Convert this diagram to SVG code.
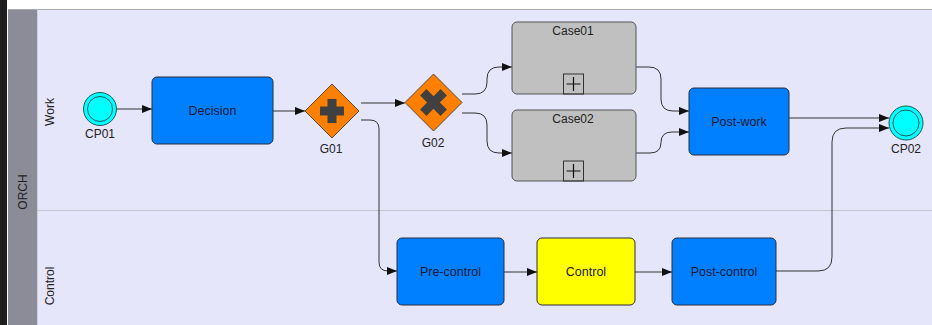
<svg xmlns="http://www.w3.org/2000/svg" width="932" height="325" viewBox="0 0 932 325">
  <style>
    .lbl { font-family: "Liberation Sans", Arial, sans-serif; font-size: 12px; fill: #222; text-anchor: middle; }
    .tsk { font-family: "Liberation Sans", Arial, sans-serif; font-size: 12.5px; fill: #1a1a33; text-anchor: middle; }
    .task { stroke: #2c2c3c; stroke-width: 1; }
    .blue { fill: #0080ff; }
    .conn { fill: none; stroke: #333; stroke-width: 1; marker-end: url(#arr); }
    .ev { fill: #00ffff; stroke: #1e5a5a; stroke-width: 1; }
    .gw { fill: #ff8000; stroke: #5a4a3a; stroke-width: 1; }
    .sub { fill: #c0c0c0; stroke: #555; stroke-width: 1; }
  </style>
  <defs>
    <marker id="arr" markerUnits="userSpaceOnUse" markerWidth="10" markerHeight="8" refX="10" refY="4" orient="auto">
      <path d="M0,0 L10,4 L0,8 z" fill="#111"/>
    </marker>
  </defs>

  <!-- background / pool -->
  <rect x="0" y="0" width="932" height="325" fill="#ffffff"/>
  <rect x="0" y="0" width="7" height="325" fill="#1e1e1e"/>
  <rect x="8" y="9" width="924" height="316" fill="#e6e6fa"/>
  <rect x="8" y="9" width="29" height="316" fill="#8c8c98"/>
  <line x1="8" y1="9.5" x2="932" y2="9.5" stroke="#a8a8b0"/>
  <line x1="37.5" y1="9" x2="37.5" y2="325" stroke="#d0d0dc"/>
  <line x1="37" y1="210.5" x2="932" y2="210.5" stroke="#c4c4cc"/>
  <text class="lbl" transform="translate(27,192) rotate(-90)">ORCH</text>
  <text class="lbl" transform="translate(54,112) rotate(-90)">Work</text>
  <text class="lbl" transform="translate(54,286) rotate(-90)">Control</text>

  <!-- connectors -->
  <g id="connectors">
    <path class="conn" d="M117,109 H152"/>
    <path class="conn" d="M273,111 H305"/>
    <path class="conn" d="M361,103 H405"/>
    <path class="conn" d="M361,120 H370 Q379,120 379,129 V262 Q379,271 388,271 H397"/>
    <path class="conn" d="M462,94 H475 Q487,94 487,82 V79 Q487,67 499,67 H512"/>
    <path class="conn" d="M462,113 H475 Q487,113 487,125 V141 Q487,153 499,153 H512"/>
    <path class="conn" d="M636,67 H649 Q661,67 661,79 V99 Q661,111 673,111 H689"/>
    <path class="conn" d="M636,153 H650 Q661,153 661,142.5 Q661,132 672,132 H689"/>
    <path class="conn" d="M789,118 H889"/>
    <path class="conn" d="M504,272 H537"/>
    <path class="conn" d="M635,272 H672"/>
    <path class="conn" d="M776,271 H818 Q832,271 832,257 V142 Q832,128 846,128 H889"/>
  </g>

  <g id="CP01">
    <circle class="ev" cx="100" cy="109" r="16.5"/>
    <circle class="ev" cx="100" cy="109" r="12.5"/>
    <text class="lbl" x="100" y="138">CP01</text>
  </g>

  <g id="Decision">
    <rect class="task blue" x="152" y="77" width="121" height="67" rx="5"/>
    <text class="tsk" x="212.5" y="115">Decision</text>
  </g>

  <g id="G01">
    <polygon class="gw" points="332,84 359,111 332,138 305,111"/>
    <path d="M327.5,99 h9 v7.5 h7.5 v9 h-7.5 v7.5 h-9 v-7.5 h-7.5 v-9 h7.5 z" fill="#404040"/>
    <text class="lbl" x="331" y="153">G01</text>
  </g>

  <g id="G02">
    <polygon class="gw" points="433.5,74 462,102.5 433.5,131 405,102.5"/>
    <path d="M429,88 h9 v10 h10 v9 h-10 v10 h-9 v-10 h-10 v-9 h10 z" fill="#404040" transform="rotate(45 433.5 102.5)"/>
    <text class="lbl" x="433" y="147">G02</text>
  </g>

  <g id="Case01">
    <rect class="sub" x="512" y="22" width="124" height="72" rx="5"/>
    <text class="lbl" x="573" y="35">Case01</text>
    <rect x="563.5" y="74" width="20" height="20" fill="none" stroke="#333"/>
    <path d="M566.5,84 h14 M573.5,77 v14" stroke="#111" stroke-width="1.2"/>
  </g>

  <g id="Case02">
    <rect class="sub" x="512" y="110" width="124" height="71" rx="5"/>
    <text class="lbl" x="573" y="123">Case02</text>
    <rect x="563.5" y="161" width="20" height="20" fill="none" stroke="#333"/>
    <path d="M566.5,171 h14 M573.5,164 v14" stroke="#111" stroke-width="1.2"/>
  </g>

  <g id="Post-work">
    <rect class="task blue" x="689" y="88" width="100" height="67" rx="5"/>
    <text class="tsk" x="739" y="126">Post-work</text>
  </g>

  <g id="CP02">
    <circle class="ev" cx="906" cy="123" r="17"/>
    <circle class="ev" cx="906" cy="123" r="13"/>
    <text class="lbl" x="906" y="153">CP02</text>
  </g>

  <g id="Pre-control">
    <rect class="task blue" x="397" y="238" width="107" height="67" rx="5"/>
    <text class="tsk" x="450.5" y="276">Pre-control</text>
  </g>

  <g id="Control">
    <rect class="task" x="537" y="238" width="98" height="67" rx="5" fill="#ffff00"/>
    <text class="tsk" x="586" y="276">Control</text>
  </g>

  <g id="Post-control">
    <rect class="task blue" x="672" y="238" width="104" height="67" rx="5"/>
    <text class="tsk" x="724" y="276">Post-control</text>
  </g>
</svg>
